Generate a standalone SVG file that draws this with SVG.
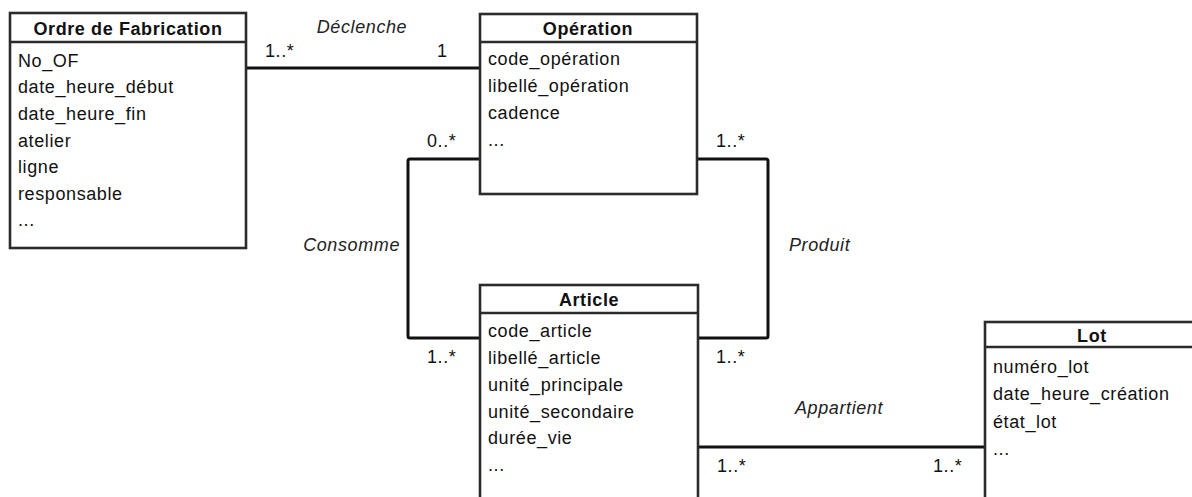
<svg xmlns="http://www.w3.org/2000/svg" width="1192" height="497" viewBox="0 0 1192 497">
<style>
.box{fill:#fff;stroke:#2b2b2b;stroke-width:2.6}
.sep{stroke:#2b2b2b;stroke-width:2.4;fill:none}
.t{font-family:"Liberation Sans",Arial,sans-serif;font-size:18px;letter-spacing:0.6px;fill:#111}
.title{font-weight:bold;text-anchor:middle}
.lbl{font-style:italic;fill:#222}
.con{fill:none;stroke:#111;stroke-width:3;stroke-linejoin:round}
</style>
<rect width="1192" height="497" fill="#fff"/>
<g id="connectors">
<path class="con" d="M246 68 H480"/>
<path class="con" d="M480 159 H410 Q408 159 408 161 V336 Q408 338 410 338 H480"/>
<path class="con" d="M697 159 H766 Q768 159 768 161 V336 Q768 338 766 338 H698"/>
<path class="con" d="M698 447 H985"/>
<text class="t lbl" x="362" y="33" text-anchor="middle">Déclenche</text>
<text class="t" x="265" y="57">1..*</text>
<text class="t" x="437" y="57">1</text>
<text class="t" x="427" y="147">0..*</text>
<text class="t" x="716" y="147">1..*</text>
<text class="t lbl" x="400" y="251" text-anchor="end">Consomme</text>
<text class="t lbl" x="789" y="251">Produit</text>
<text class="t" x="427" y="363">1..*</text>
<text class="t" x="716" y="363">1..*</text>
<text class="t lbl" x="795" y="414">Appartient</text>
<text class="t" x="717" y="472">1..*</text>
<text class="t" x="933" y="472">1..*</text>
</g>
<g id="ordre-fabrication">
<rect class="box" x="10" y="13" width="236" height="235"/>
<path class="sep" d="M10 42 H246"/>
<text class="t title" x="128" y="35">Ordre de Fabrication</text>
<text class="t" x="18" y="67">No_OF</text>
<text class="t" x="18" y="93">date_heure_début</text>
<text class="t" x="18" y="120">date_heure_fin</text>
<text class="t" x="18" y="147">atelier</text>
<text class="t" x="18" y="173">ligne</text>
<text class="t" x="18" y="200">responsable</text>
<text class="t" x="18" y="226">...</text>
</g>
<g id="operation">
<rect class="box" x="480" y="14" width="217" height="180"/>
<path class="sep" d="M480 42 H697"/>
<text class="t title" x="588" y="35">Opération</text>
<text class="t" x="488" y="65">code_opération</text>
<text class="t" x="488" y="92">libellé_opération</text>
<text class="t" x="488" y="119">cadence</text>
<text class="t" x="488" y="146">...</text>
</g>
<g id="article">
<rect class="box" x="480" y="285" width="218" height="260"/>
<path class="sep" d="M480 313 H698"/>
<text class="t title" x="589" y="306">Article</text>
<text class="t" x="488" y="337">code_article</text>
<text class="t" x="488" y="364">libellé_article</text>
<text class="t" x="488" y="391">unité_principale</text>
<text class="t" x="488" y="418">unité_secondaire</text>
<text class="t" x="488" y="444">durée_vie</text>
<text class="t" x="488" y="471">...</text>
</g>
<g id="lot">
<rect class="box" x="985" y="322" width="260" height="230"/>
<path class="sep" d="M985 347 H1245"/>
<text class="t title" x="1092" y="342">Lot</text>
<text class="t" x="993" y="373">numéro_lot</text>
<text class="t" x="993" y="400">date_heure_création</text>
<text class="t" x="993" y="428">état_lot</text>
<text class="t" x="993" y="455">...</text>
</g>
</svg>
